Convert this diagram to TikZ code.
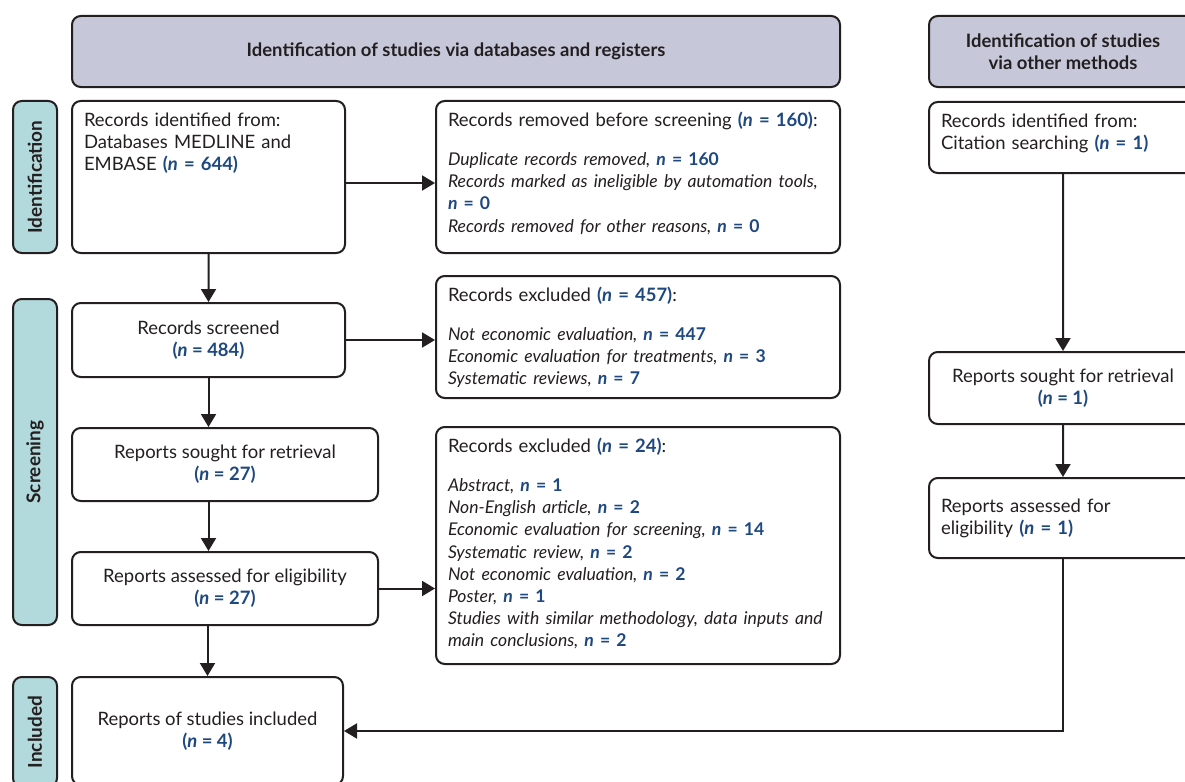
\documentclass[tikz,border=0pt]{standalone}
\usepackage{fontspec}
\setmainfont{Lato}
\usetikzlibrary{positioning, arrows.meta}

\definecolor{nblue}{RGB}{30,72,128}
\definecolor{edge}{RGB}{35,31,32}
\definecolor{headfill}{RGB}{198,199,217}
\definecolor{stagefill}{RGB}{178,217,220}

\newcommand{\nparen}[1]{\textcolor{nblue}{\textbf{(\textit{n} = #1)}}}
\newcommand{\nbold}[1]{\textcolor{nblue}{\textbf{\textit{n} = #1}}}
\newcommand{\listfont}{\fontsize{10}{12.6}\selectfont}

\begin{document}
\begin{tikzpicture}[
  x=0.2mm, y=-0.2mm,
  >={Triangle[length=2.6mm, width=3mm]},
  every node/.style={font=\fontsize{10.5}{12.6}\selectfont, text=edge},
  box/.style    = {draw=edge, line width=0.4mm, rounded corners=5pt, fill=white, inner xsep=2.4mm, inner ysep=2mm},
  midbox/.style = {box, align=center, anchor=north west},
  topbox/.style = {box, align=left, anchor=north west, text height=3mm},
  head/.style   = {box, fill=headfill, align=center, anchor=north west, minimum height=14.2mm, font=\fontsize{10.5}{12.6}\selectfont\bfseries},
  stage/.style  = {box, fill=stagefill, anchor=north west, inner sep=0pt, minimum width=8.8mm, font=\fontsize{10.8}{13}\selectfont\bfseries},
  arr/.style    = {->, line width=0.4mm, draw=edge},
]
  \useasboundingbox (0,0) rectangle (1185,782);
  \clip (0,0) rectangle (1185,782);

  % headers and stages
  \node[head, minimum width=153.6mm] (headdb) at (71,15) {Identification of studies via databases and registers};
  \node[head, minimum width=53.6mm] (headoth) at (928,15) {Identification of studies\\via other methods};
  \node[stage, minimum height=30.4mm] (stid) at (12,100) {\rotatebox{90}{Identification}};
  \node[stage, minimum height=65.2mm] (stscr) at (12,298) {\rotatebox{90}{Screening}};
  \node[stage, minimum height=22mm] (stinc) at (12,676) {\rotatebox{90}{Included}};

  % databases and registers
  \node[topbox, text width=49.8mm, text depth=23.4mm] (idrec) at (71,100)
    {Records identified from:\\Databases MEDLINE and\\EMBASE \nparen{644}};
  \node[topbox, text width=76mm, text depth=23.4mm] (removed) at (435,100)
    {Records removed before screening \nparen{160}:\\[3.5mm]\listfont
     \textit{Duplicate records removed,} \nbold{160}\\
     \mbox{\textit{Records marked as ineligible by automation tools,}}\\
     \nbold{0}\\
     \textit{Records removed for other reasons,} \nbold{0}};
  \node[midbox, minimum width=54.6mm, minimum height=14.8mm] (screened) at (71,302)
    {Records screened\\\nparen{484}};
  \node[topbox, text width=76mm, text depth=17.4mm] (excl1) at (435,275)
    {Records excluded \nparen{457}:\\[3.5mm]\listfont
     \textit{Not economic evaluation,} \nbold{447}\\
     \textit{Economic evaluation for treatments,} \nbold{3}\\
     \textit{Systematic reviews,} \nbold{7}};
  \node[midbox, minimum width=61.2mm, minimum height=14.6mm] (sought) at (71,427)
    {Reports sought for retrieval\\\nparen{27}};
  \node[topbox, text width=76mm, text depth=40.4mm] (excl2) at (435,426)
    {Records excluded \nparen{24}:\\[3.5mm]\listfont
     \textit{Abstract,} \nbold{1}\\
     \textit{Non-English article,} \nbold{2}\\
     \textit{Economic evaluation for screening,} \nbold{14}\\
     \textit{Systematic review,} \nbold{2}\\
     \textit{Not economic evaluation,} \nbold{2}\\
     \textit{Poster,} \nbold{1}\\
     \mbox{\textit{Studies with similar methodology, data inputs and}}\\
     \textit{main conclusions,} \nbold{2}};
  \node[midbox, minimum width=61.2mm, minimum height=14.6mm] (assessed) at (71,551)
    {Reports assessed for eligibility\\\nparen{27}};
  \node[midbox, minimum width=54.2mm, minimum height=21.6mm] (included) at (71,676)
    {Reports of studies included\\\nparen{4}};

  % other methods
  \node[topbox, text width=48.8mm, text depth=7.2mm] (othrec) at (928,101)
    {Records identified from:\\Citation searching \nparen{1}};
  \node[midbox, minimum width=53.6mm, minimum height=14.4mm] (othsought) at (928,351)
    {Reports sought for retrieval\\\nparen{1}};
  \node[box, align=left, anchor=north west, text width=48.8mm, minimum height=16mm] (othassessed) at (928,477)
    {Reports assessed for\\eligibility \nparen{1}};

  % connectors
  \foreach \a/\b in {idrec/screened,othrec/othsought,othsought/othassessed}\draw[arr](\a)--(\b);
  \draw[arr] ([yshift=-1.2mm]idrec.east) -- ([yshift=-1.2mm]idrec.east -| removed.west);
  \draw[arr] (screened.east) -- (screened.east -| excl1.west);
  \draw[arr] (screened.south) -- (screened.south |- sought.north);
  \draw[arr] (sought.south -| screened.south) -- (assessed.north -| screened.south);
  \draw[arr] (assessed.east) -- (assessed.east -| excl2.west);
  \draw[arr] (assessed.south -| included.north) -- (included.north);
  \draw[arr] (othassessed.south) |- (included.east);
\end{tikzpicture}
\end{document}
